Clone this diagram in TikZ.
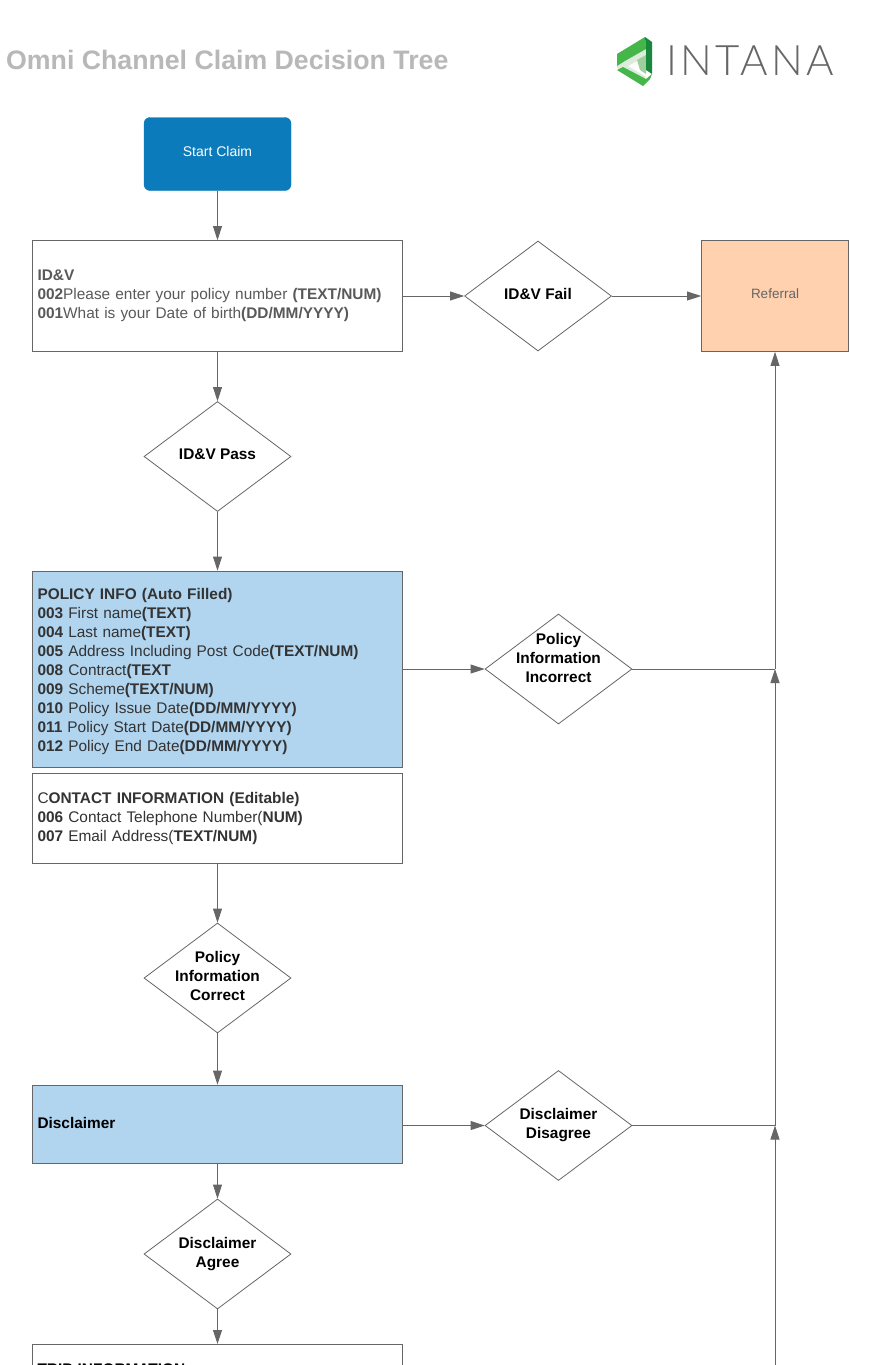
\documentclass[tikz,border=0pt]{standalone}
\usepackage{fontspec}
\setmainfont{Liberation Sans}
\newfontfamily\logofont[LetterSpace=8]{Lato Light}
\usetikzlibrary{shapes.geometric,arrows.meta}
\definecolor{linegray}{HTML}{666666}
\definecolor{titlegray}{HTML}{B8B8B8}
\definecolor{startblue}{HTML}{0B7BBC}
\definecolor{infoblue}{HTML}{B1D4EF}
\definecolor{referralorange}{HTML}{FFD1AF}
\definecolor{logogreen}{HTML}{45B649}
\definecolor{logodark}{HTML}{17883C}
\definecolor{logomid}{HTML}{9CCF9C}
\definecolor{logopale}{HTML}{DCEBDC}
\tikzset{
  flowbox/.style={draw=linegray,line width=0.8pt,minimum width=370pt,text width=360pt,
                  inner xsep=5pt,inner ysep=0pt,align=left,font=\fontsize{15.4}{19}\selectfont},
  decision/.style={draw=linegray,line width=0.8pt,shape=diamond,minimum width=147pt,minimum height=110pt,
                   inner sep=-20pt,align=center,text depth=4pt,font=\fontsize{15.4}{19}\selectfont\bfseries},
  flow/.style={draw=linegray,line width=0.8pt,-{Triangle[length=14pt,width=9pt]}},
  plain/.style={draw=linegray,line width=0.8pt}
}
\begin{document}
\begin{tikzpicture}[x=1pt,y=-1pt]
\path[use as bounding box,clip] (0,0) rectangle (868,1365);
\fill[white] (0,0) rectangle (868,1365);
% heading
\node[anchor=west,inner sep=0pt,text=titlegray,font=\fontsize{26.7}{30}\selectfont\bfseries] (title) at (6,60) {Omni Channel Claim Decision Tree};
% logo
\fill[logopale] (617,66) -- (646,49) -- (646,56) -- (628,66) -- (646,77) -- (640,79) -- (617,68) -- cycle;
\fill[logomid] (637,60) -- (646,55) -- (646,74) -- (640,70) -- cycle;
\fill[logogreen] (617,54) -- (645,37) -- (646,49) -- (625,61) -- (617,66) -- cycle;
\fill[logodark] (645,37) -- (652,42) -- (652,74) -- (646,70) -- (646,49) -- cycle;
\fill[logogreen] (617,70) -- (623,67) -- (646,79) -- (652,74) -- (650,79) -- (643,86) -- cycle;
\node[anchor=west,inner sep=0pt,text=linegray,font=\fontsize{42}{44}\logofont] (logotext) at (666,60.5) {INTANA};
% main column
\node[draw=startblue,fill=startblue,rounded corners=6pt,minimum width=147pt,minimum height=73pt,text depth=6pt,text=white,font=\fontsize{14}{17}\selectfont] (start) at (217.5,154) {Start Claim};
\node[flowbox,minimum height=111pt,text=black!65] (idv) at (217.5,296) {\textbf{ID\&V}\\\textbf{002}Please enter your policy number \textbf{(TEXT/NUM)}\\\textbf{001}What is your Date of birth\textbf{(DD/MM/YYYY)}};
\node[decision] (idvpass) at (217.5,456.5) {ID\&V Pass};
\node[flowbox,fill=infoblue,minimum height=196pt,text depth=150.5pt,text=black!80] (policy) at (217.5,669) {\textbf{POLICY INFO (Auto Filled)}\\\textbf{003} First name\textbf{(TEXT)}\\\textbf{004} Last name\textbf{(TEXT)}\\\textbf{005} Address Including Post Code\textbf{(TEXT/NUM)}\\\textbf{008} Contract\textbf{(TEXT}\\\textbf{009} Scheme\textbf{(TEXT/NUM)}\\\textbf{010} Policy Issue Date\textbf{(DD/MM/YYYY)}\\\textbf{011} Policy Start Date\textbf{(DD/MM/YYYY)}\\\textbf{012} Policy End Date\textbf{(DD/MM/YYYY)}};
\node[flowbox,minimum height=90pt,text depth=39.5pt,text=black!80] (contact) at (217.5,818) {C\textbf{ONTACT INFORMATION (Editable)}\\\textbf{006} Contact Telephone Number(\textbf{NUM)}\\\textbf{007} Email Address(\textbf{TEXT/NUM)}};
\node[decision] (polcorrect) at (217.5,978) {Policy\\Information\\Correct};
\node[flowbox,fill=infoblue,minimum height=78pt,text depth=2pt] (disclaimer) at (217.5,1124) {\textbf{Disclaimer}};
\node[decision] (discagree) at (217.5,1254) {Disclaimer\\Agree};
\node[flowbox,anchor=north,text depth=100pt,inner ysep=19pt] (trip) at (217.5,1344) {\textbf{TRIP INFORMATION}};
% side column
\node[decision] (idvfail) at (538,296) {ID\&V Fail};
\node[decision] (polincorrect) at (558.5,669) {Policy\\Information\\Incorrect\\~};
\node[decision] (discdisagree) at (558.5,1125.5) {Disclaimer\\Disagree};
\node[draw=linegray,line width=0.8pt,fill=referralorange,minimum width=147pt,minimum height=111pt,text depth=4pt,text=black!60,font=\fontsize{13.5}{16}\selectfont] (referral) at (775,296) {Referral};
\coordinate (joinpol) at (775,669);
\coordinate (joindisc) at (775,1125.5);
\coordinate (offpage) at (775,1370);
% connectors
\draw[flow] (start) -- (idv);
\draw[flow] (idv) -- (idvpass);
\draw[flow] (idvpass) -- (policy);
\draw[flow] (contact) -- (polcorrect);
\draw[flow] (polcorrect) -- (disclaimer);
\draw[flow] (disclaimer) -- (discagree);
\draw[flow] (discagree) -- (trip);
\draw[flow] (idv) -- (idvfail);
\draw[flow] (idvfail) -- (referral);
\draw[flow] (policy) -- (polincorrect);
\draw[flow] (disclaimer.east |- discdisagree) -- (discdisagree);
\draw[plain] (polincorrect) -- (joinpol);
\draw[plain] (discdisagree) -- (joindisc);
\draw[flow] (joinpol) -- (referral);
\draw[flow] (joindisc) -- (joinpol);
\draw[flow] (offpage) -- (joindisc);
\end{tikzpicture}
\end{document}
